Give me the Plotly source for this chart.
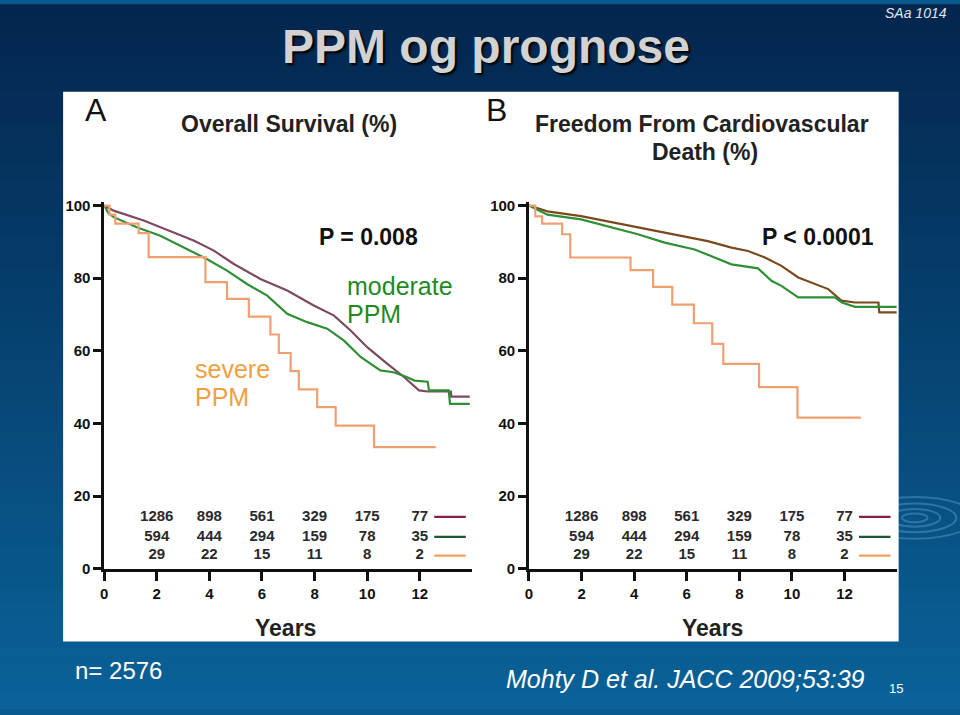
import plotly.graph_objects as go

W, H = 960, 715

# ---------------- data ----------------
# Panel A: Overall survival (%)
a_all_x = [0, 0.36, 1.5, 2.5, 3.4, 4.17, 4.93, 5.94, 6.96, 7.97, 8.74, 9.37, 10.0, 10.77, 11.4, 11.97, 12.3, 13.18, 13.2, 13.9]
a_all_y = [100, 98.6, 95.9, 93.1, 90.4, 87.6, 83.9, 79.8, 76.6, 72.5, 69.7, 65.6, 61.0, 56.4, 52.8, 49.1, 48.8, 48.8, 47.4, 47.4]

a_mod_x = [0, 0.15, 0.36, 1.24, 2.13, 3.4, 3.9, 4.67, 5.43, 6.2, 6.96, 7.72, 8.48, 9.12, 9.75, 10.5, 11.0, 11.5, 11.8, 12.3, 12.35, 13.1, 13.15, 13.9]
a_mod_y = [100, 98.0, 96.8, 94.0, 91.7, 87.2, 85.3, 82.1, 78.4, 75.2, 70.2, 67.9, 66.1, 62.8, 58.3, 54.6, 54.1, 52.8, 51.8, 51.5, 49.1, 49.1, 45.4, 45.4]

a_sev_x = [0, 0.2, 0.42, 1.31, 1.69, 3.85, 4.67, 5.50, 6.32, 6.64, 7.09, 7.40, 8.10, 8.80, 10.26, 12.61]
a_sev_y = [100, 97.5, 95.0, 92.4, 85.8, 78.9, 74.3, 69.4, 64.5, 59.4, 54.4, 49.4, 44.5, 39.4, 33.5, 33.5]

# Panel B: Freedom from cardiovascular death (%)
b_all_x = [0, 0.7, 1.98, 3.25, 4.52, 5.79, 6.8, 7.7, 8.33, 8.97, 9.6, 10.24, 10.87, 11.38, 11.89, 12.4, 13.29, 13.32, 13.98]
b_all_y = [100, 98.4, 97.1, 95.3, 93.4, 91.6, 90.2, 88.4, 87.5, 85.7, 83.4, 80.2, 78.4, 77.0, 73.8, 73.3, 73.3, 70.6, 70.6]

b_mod_x = [0, 0.7, 1.98, 3.25, 4.14, 5.16, 6.3, 7.06, 7.7, 8.71, 9.22, 9.6, 10.24, 10.87, 11.63, 11.9, 12.4, 13.98]
b_mod_y = [100, 97.5, 96.2, 93.9, 92.1, 89.8, 87.9, 85.7, 83.8, 82.7, 79.3, 77.9, 74.7, 74.7, 74.7, 73.3, 72.1, 72.1]

b_sev_x = [0, 0.24, 0.5, 1.26, 1.57, 3.86, 4.72, 5.45, 6.27, 6.97, 7.39, 8.75, 10.21, 12.62]
b_sev_y = [100, 97.0, 95.0, 92.1, 85.7, 82.2, 77.6, 72.7, 67.6, 61.9, 56.4, 50.0, 41.6, 41.6]

# Numbers at risk
risk_years = [2, 4, 6, 8, 10, 12]
risk_all = [1286, 898, 561, 329, 175, 77]
risk_moderate = [594, 444, 294, 159, 78, 35]
risk_severe = [29, 22, 15, 11, 8, 2]
risk_rows_y = [14.3, 8.8, 3.6]
risk_key_x = [12.55, 13.75]

x_ticks = [0, 2, 4, 6, 8, 10, 12]
y_ticks = [0, 20, 40, 60, 80, 100]

# ---------------- styles ----------------
FONT = "Liberation Sans, Arial, sans-serif"
A_ALL_C = "#7d4a62"
B_ALL_C = "#7a4a1e"
MOD_C = "#2f8f35"
SEV_C = "#f0a070"
KEY_COLORS = ["#8a2040", "#1e5a30", "#f0a060"]

# small correction for how the page is photographed
X_OFF, X_S = 4.0, 0.994
Y_OFF, Y_S = 3.0, 0.984


def px(x):
    return ((x - X_OFF) / X_S) / W


def py(y):
    return 1 - ((y - Y_OFF) / Y_S) / H


fig = go.Figure()

panels = [
    ("x", "y", [(a_all_x, a_all_y, A_ALL_C, "linear"), (a_mod_x, a_mod_y, MOD_C, "linear"),
                (a_sev_x, a_sev_y, SEV_C, "hv")]),
    ("x2", "y2", [(b_all_x, b_all_y, B_ALL_C, "linear"), (b_mod_x, b_mod_y, MOD_C, "linear"),
                  (b_sev_x, b_sev_y, SEV_C, "hv")]),
]

for xa, ya, series in panels:
    for xs, ys, col, shape in series:
        fig.add_trace(go.Scatter(x=xs, y=ys, mode="lines", xaxis=xa, yaxis=ya,
                                 line=dict(color=col, width=2.2, shape=shape),
                                 showlegend=False, hoverinfo="skip"))
    # number at risk table
    for row_vals, ry in zip([risk_all, risk_moderate, risk_severe], risk_rows_y):
        fig.add_trace(go.Scatter(x=risk_years, y=[ry] * len(risk_years), mode="text",
                                 text=["<b>%d</b>" % v for v in row_vals], xaxis=xa, yaxis=ya,
                                 textfont=dict(family=FONT, size=15, color="#2a2a2a"),
                                 textposition="middle center", showlegend=False,
                                 hoverinfo="skip", cliponaxis=False))
    for ry, kc in zip(risk_rows_y, KEY_COLORS):
        fig.add_trace(go.Scatter(x=risk_key_x, y=[ry, ry], mode="lines", xaxis=xa, yaxis=ya,
                                 line=dict(color=kc, width=2.2), showlegend=False,
                                 hoverinfo="skip"))

# ---------------- background ----------------
shapes = []
top = (4, 38, 78)
bot = (10, 98, 152)
n = 48
for i in range(n):
    t = i / (n - 1)
    c = tuple(int(top[k] + (bot[k] - top[k]) * t) for k in range(3))
    shapes.append(dict(type="rect", xref="paper", yref="paper", x0=-0.01, x1=1.01,
                       y0=1 - (i + 1) / n - 0.003, y1=1 - i / n + 0.001,
                       fillcolor="rgb(%d,%d,%d)" % c, line=dict(width=0), layer="below"))
# faint ripples at right
for r in [8, 16, 26, 38]:
    shapes.append(dict(type="circle", xref="paper", yref="paper",
                       x0=px(913 - r * 1.6), x1=px(913 + r * 1.6),
                       y0=py(517 + r * 0.55), y1=py(517 - r * 0.55),
                       line=dict(color="rgba(120,180,230,0.35)", width=2), layer="below"))
# white panel
shapes.append(dict(type="rect", xref="paper", yref="paper", x0=px(63), x1=px(897),
                   y0=py(641), y1=py(90), fillcolor="white", line=dict(width=0), layer="below"))

ann = []


def add_text(text, x, y, size, color="black", bold=False, italic=False, xanchor="center",
             align="center", shadow=None):
    t = text
    if bold:
        t = "<b>%s</b>" % t
    if italic:
        t = "<i>%s</i>" % t
    f = dict(family=FONT, size=size, color=color)
    if shadow:
        f["shadow"] = shadow
    ann.append(dict(text=t, x=px(x), y=py(y), xref="paper", yref="paper", showarrow=False,
                    xanchor=xanchor, yanchor="middle", align=align, font=f, borderpad=0))


add_text("PPM og prognose", 485, 45, 48, color="#d2d2d2", bold=True, shadow="2px 2px 2px #000000")
add_text("SAa 1014", 946, 11, 14, color="#dfe6f0", italic=True, xanchor="right")

add_text("A", 96, 108, 32, color="#111111")
add_text("Overall Survival (%)", 288, 122, 23, color="#222222", bold=True)
add_text("B", 496, 108, 32, color="#111111")
add_text("Freedom From Cardiovascular", 701, 122, 23, color="#222222", bold=True)
add_text("Death (%)", 704, 150, 23, color="#222222", bold=True)

add_text("P = 0.008", 368, 236, 23, color="#111111", bold=True)
add_text("P < 0.0001", 817, 236, 23, color="#111111", bold=True)
add_text("moderate", 345, 285, 25, color="#1f8a1f", xanchor="left")
add_text("PPM", 345, 313, 25, color="#1f8a1f", xanchor="left")
add_text("severe", 194, 368, 25, color="#f0a040", xanchor="left")
add_text("PPM", 194, 396, 25, color="#f0a040", xanchor="left")

add_text("Years", 285, 627, 23, color="#222222", bold=True)
add_text("Years", 711, 627, 23, color="#222222", bold=True)

add_text("n= 2576", 74, 670, 24, color="white", xanchor="left")
add_text("Mohty D et al. JACC 2009;53:39", 684, 678, 25, color="white", italic=True)
add_text("15", 894, 688, 13, color="white")

# ---------------- axes ----------------
y_dom = [py(568), py(204 - 3.64)]
ax_common = dict(showgrid=False, zeroline=False, showline=True, linecolor="#111111",
                 linewidth=2.5, ticks="outside", tickcolor="#111111", tickwidth=2.5,
                 tickfont=dict(family=FONT, size=15, color="#111111"))

xa = dict(ax_common, range=[0, 14], tickvals=x_ticks, ticklen=10,
          ticktext=["<b>%d</b>" % v for v in x_ticks])
ya = dict(ax_common, range=[0, 101], tickvals=y_ticks, ticklen=8,
          ticktext=["<b>%d</b>" % v for v in y_ticks])

fig.update_layout(
    width=W, height=H,
    margin=dict(l=0, r=0, t=0, b=0),
    paper_bgcolor="#0a5a90",
    plot_bgcolor="rgba(0,0,0,0)",
    xaxis=dict(xa, domain=[px(104), px(104 + 14 * 26.25)], anchor="y"),
    yaxis=dict(ya, domain=y_dom, anchor="x"),
    xaxis2=dict(xa, domain=[px(528), px(528 + 14 * 26.25)], anchor="y2"),
    yaxis2=dict(ya, domain=y_dom, anchor="x2"),
    shapes=shapes,
    annotations=ann,
    showlegend=False,
)

fig.write_html(
    "out.html",
    config={"displayModeBar": False},
    post_script="document.body.style.margin='0';document.body.style.padding='0';document.body.style.overflow='hidden';",
)
